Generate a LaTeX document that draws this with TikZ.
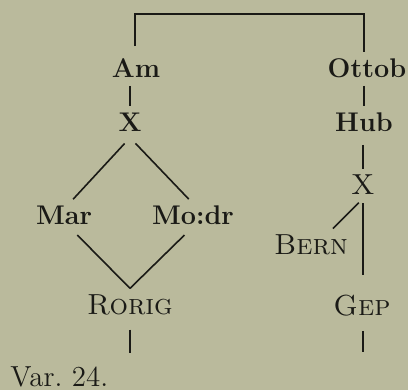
\documentclass[tikz,border=0pt]{standalone}
\usepackage{xcolor}
\usepackage{tikz}
\usetikzlibrary{positioning}
\definecolor{paper}{RGB}{186,186,156}
\definecolor{ink}{RGB}{26,26,22}

\begin{document}
\begin{tikzpicture}[
    x=0.5pt, y=0.5pt,
    every node/.style={text=ink, inner sep=3pt},
    sig/.style={font=\fontsize{13.5}{15}\selectfont\bfseries},
    ms/.style={font=\fontsize{14.5}{17}\selectfont\scshape},
    link/.style={draw=ink, line width=0.8pt},
    tick/.style={draw=ink, line width=1.1pt},
  ]
    % Page: 408 x 390, y measured upwards from the bottom edge
    \fill[paper] (0,0) rectangle (408,390);
    \useasboundingbox (0,0) rectangle (408,390);

    % --- left branch
    \node[sig] (Am)    at (136,322) {Am};
    \node[sig] (Xl)    at (130,268) {X};
    \node[sig] (Mar)   at (64,175)  {Mar};
    \node[sig] (Mordr) at (193,175) {Mo:dr};
    \node[ms]  (Rorig) at (130,85)  {Rorig};

    % --- right branch
    \node[sig] (Ottob) at (367,322) {Ottob};
    \node[sig] (Hub)   at (364,268) {Hub};
    \node[ms]  (Xr)    at (363,205) {X};
    \node[ms]  (Bern)  at (311,145) {Bern};
    \node[ms]  (Gep)   at (362,84)  {Gep};

    % caption
    \node[ms, anchor=west, inner sep=0pt] (var) at (10,13) {\upshape Var.\ 24.};

    % Top bracket
    \coordinate (top) at (250,376);
    \draw[link, shorten <=3pt] ([xshift=-0.5pt]Am.north) |- (top) -| ([xshift=-1.5pt]Ottob.north);

    % Short descents (kept vertical)
    \draw[tick, shorten <=1pt] (Xl.north |- Am.south) -- (Xl.north);
    \draw[tick, shorten <=1pt] (Hub.north |- Ottob.south) -- (Hub.north);
    \draw[tick, shorten <=3.5pt] (Hub.south -| Xr.north) -- (Xr.north);

    % Diamond
    \draw[link, shorten <=4pt] (Xl.south) -- (Mar.60);
    \draw[link, shorten <=4pt] (Xl.south) -- (Mordr.105);
    \draw[link, shorten <=3pt] (Mar.-60) -- (Rorig.north);
    \draw[link, shorten <=3pt] (Mordr.-105) -- (Rorig.north);

    % Right split
    \draw[link, shorten <=1pt] (Xr.-100) -- (Bern.37);
    \draw[link, shorten <=1pt, shorten >=7pt] (Xr.south) -- (Gep.north -| Xr.south);

    % Loose ends below
    \coordinate (rEnd) at (130,37);
    \coordinate (gEnd) at (363,38);
    \draw[tick, shorten <=4pt] (Rorig.south) -- (rEnd);
    \draw[tick, shorten <=4pt] (Gep.south -| gEnd) -- (gEnd);
  \end{tikzpicture}
\end{document}
